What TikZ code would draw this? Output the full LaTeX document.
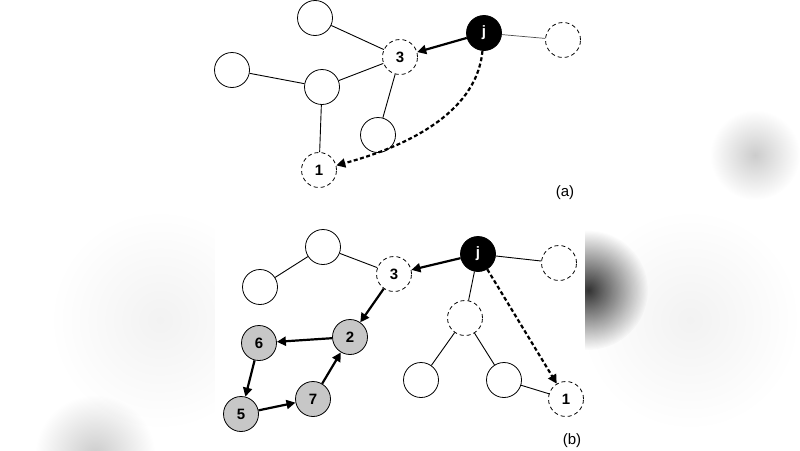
\documentclass[tikz,border=0pt]{standalone}
\usepackage{fontspec}
\setmainfont{Liberation Sans}
\usetikzlibrary{arrows.meta,fadings}
\tikzfading[name=softblob, inner color=transparent!0, outer color=transparent!100]
\begin{document}
\begin{tikzpicture}[x=1pt,y=-1pt,
  vtx/.style={circle,draw,minimum size=35pt,inner sep=0pt,line width=0.8pt,fill=white,font=\fontsize{15}{17}\selectfont\bfseries},
  dvtx/.style={vtx,dash pattern=on 4pt off 3pt},
  gvtx/.style={vtx,fill=black!22},
  bvtx/.style={vtx,fill=black,text=white},
  edge/.style={line width=0.9pt},
  arr/.style={line width=2.2pt,-{Triangle[length=9pt,width=9pt]}},
  darr/.style={arr,dash pattern=on 4pt off 2.5pt},
  lbl/.style={font=\fontsize{15}{17}\selectfont},
  blob/.style={fill=black,path fading=softblob}]
\useasboundingbox (0,0) rectangle (800,450);
% background with soft blobs
\fill[white] (0,0) rectangle (800,450);
\fill[blob,fill opacity=0.8] (588,290) circle[radius=60];
\fill[blob,fill opacity=0.2] (755,155) circle[radius=45];
\fill[blob,fill opacity=0.2] (95,455) circle[radius=60];
\fill[blob,fill opacity=0.05] (160,320) circle[radius=110];
\fill[blob,fill opacity=0.05] (690,320) circle[radius=110];
\fill[white] (215,0) rectangle (585,450);

% ---------- (a) ----------
\node[vtx] (a1) at (315,18) {};
\node[dvtx] (a3) at (400,57) {3};
\node[bvtx] (aj) at (484,33) {j};
\node[dvtx] (ar) at (563,40) {};
\node[vtx] (a2) at (232,70) {};
\node[vtx] (am) at (322,87) {};
\node[vtx] (ab) at (378,135) {};
\node[dvtx] (aone) at (319,170) {1};
\node[lbl] (la) at (565,193) {(a)};
\draw[edge] (a1) -- (a3);
\draw[edge] (a2) -- (am);
\draw[edge] (am) -- (a3);
\draw[edge] (am) -- (aone);
\draw[edge] (a3) -- (ab);
\draw[line width=0.7pt,black!70] (aj) -- (ar);
\draw[arr] (aj) -- (a3);
\draw[darr] (aj) to[out=-95,in=15,looseness=0.9] (aone);

% ---------- (b) ----------
\node[vtx] (b1) at (323,247) {};
\node[vtx] (b2) at (260,287) {};
\node[dvtx] (b3) at (394,274) {3};
\node[bvtx] (bj) at (478,254) {j};
\node[dvtx] (br) at (559,263) {};
\node[dvtx] (bm) at (465,318) {};
\node[vtx] (bl) at (421,380) {};
\node[vtx] (bbr) at (504,380) {};
\node[dvtx] (bone) at (566,399) {1};
\node[gvtx] (g2) at (350,337) {2};
\node[gvtx] (g6) at (259,343) {6};
\node[gvtx] (g7) at (313,399) {7};
\node[gvtx] (g5) at (241,414) {5};
\node[lbl] (lb) at (572,441) {(b)};
\draw[edge] (b1) -- (b2);
\draw[edge] (b1) -- (b3);
\draw[edge] (bj) -- (br);
\draw[edge] (bj) -- (bm);
\draw[edge] (bm) -- (bl);
\draw[edge] (bm) -- (bbr);
\draw[edge] (bbr) -- (bone);
\draw[arr] (bj) -- (b3);
\draw[arr] (b3) -- (g2);
\draw[darr] (bj) -- (bone);
\draw[arr] (g2) -- (g6);
\draw[arr] (g6) -- (g5);
\draw[arr] (g5) -- (g7);
\draw[arr] (g7) -- (g2);
\end{tikzpicture}
\end{document}
